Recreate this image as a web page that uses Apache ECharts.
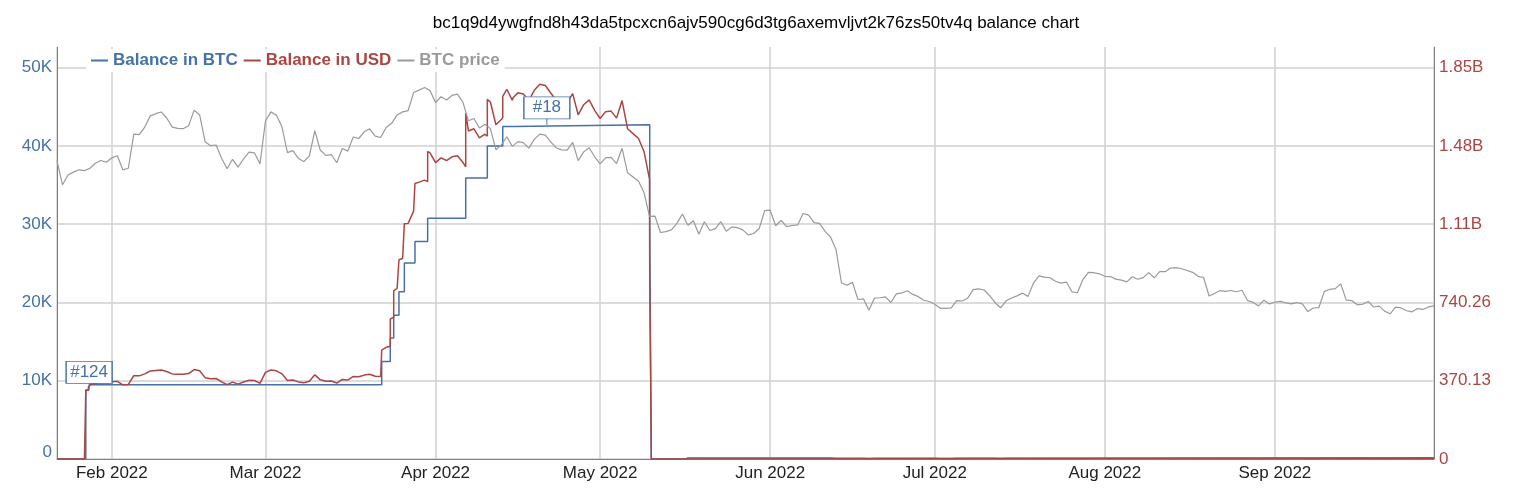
<!DOCTYPE html>
<html>
<head>
<meta charset="utf-8">
<script src="https://cdn.jsdelivr.net/npm/echarts@6/dist/echarts.min.js"></script>
<style>
html,body{margin:0;padding:0;background:#fff;}
#chart{width:1520px;height:496px;}
</style>
</head>
<body>
<div id="chart"></div>
<script>
// ---- data ----
const chartTitle = 'bc1q9d4ywgfnd8h43da5tpcxcn6ajv590cg6d3tg6axemvljvt2k76zs50tv4q balance chart';
const seriesNames = ['Balance in BTC', 'Balance in USD', 'BTC price'];
const firstDay = [2022, 0, 22];           // daily points start 2022-01-22
const axisStart = '2022-01-22 00:00';
const axisEnd = '2022-09-30 00:00';

// BTC price, thousands of USD, one value per day from 2022-01-22
const btcPriceK = [
38.10,35.03,36.28,36.65,36.95,36.85,37.14,37.78,38.14,37.92,
38.48,38.74,36.95,37.15,41.50,41.44,42.41,43.84,44.12,44.34,
43.57,42.41,42.24,42.20,42.59,44.58,43.96,40.54,40.03,40.12,
38.43,37.08,38.29,37.30,38.33,39.21,39.11,37.71,43.19,44.35,
43.93,42.45,39.14,39.40,38.42,37.99,38.73,41.94,39.44,38.79,
38.90,37.85,39.67,39.34,41.14,40.95,41.80,42.19,41.25,41.08,
42.36,42.89,43.96,44.35,44.50,46.82,47.13,47.47,47.06,45.54,
46.28,45.87,46.45,46.62,45.56,43.21,43.50,42.29,42.78,42.21,
39.52,40.13,41.17,39.94,40.55,40.42,39.72,40.83,41.50,41.37,
40.53,39.74,39.49,39.47,40.46,38.12,39.24,39.77,38.61,37.71,
38.47,38.53,37.75,39.70,36.58,36.04,35.50,34.06,31.00,31.02,
28.94,29.05,29.28,30.10,31.31,29.86,30.43,28.72,30.31,29.20,
29.43,30.32,29.10,29.66,29.56,29.27,28.63,28.81,29.45,31.73,
31.79,29.80,30.47,29.70,29.83,29.91,31.37,31.16,30.21,30.11,
29.08,28.36,26.76,22.49,22.21,22.57,20.38,20.47,19.02,20.55,
20.60,20.71,19.99,21.09,21.23,21.50,21.03,20.74,20.28,20.12,
19.78,19.27,19.24,19.30,20.23,20.19,20.55,21.64,21.73,21.59,
20.86,19.97,19.32,20.21,20.57,20.84,21.19,20.78,22.49,23.39,
23.23,23.16,22.71,22.47,22.61,21.36,21.24,22.93,23.84,23.80,
23.66,23.34,23.31,22.98,22.85,22.63,23.29,22.96,23.18,23.81,
23.15,23.95,23.93,24.40,24.44,24.31,24.09,23.85,23.34,23.19,
20.83,21.14,21.52,21.42,21.53,21.37,21.56,20.24,20.04,19.56,
20.29,19.81,20.05,20.13,19.95,19.83,19.99,19.81,18.84,19.29,
19.33,21.38,21.68,21.77,22.37,20.30,20.24,19.70,19.77,20.13,
19.42,19.54,18.89,18.55,19.41,19.30,18.94,18.80,19.22,19.11,
19.43,19.57
];

// Balance in USD, millions, one value per day from 2022-01-22
const usdDailyM = [
0,0,0,0,0,0,341.7,358.5,361.9,359.9,
365.2,367.6,350.7,352.6,393.8,393.3,402.5,416.0,418.7,420.8,
413.5,402.5,400.9,400.5,404.2,423.1,417.2,384.7,379.9,380.7,
364.7,351.9,363.4,354.0,363.8,372.1,371.2,357.9,409.9,420.9,
416.9,402.9,371.4,373.9,364.6,360.5,367.5,398.0,374.3,368.1,
369.2,359.2,376.5,373.3,390.4,388.6,396.7,400.4,391.5,389.9,
528.2,663.5,807.5,947.8,1114.3,1172.4,1309.3,1318.7,1448.0,1401.3,
1424.0,1411.4,1429.3,1434.5,1401.9,1551.2,1561.7,1518.2,1535.8,1688.4,
1580.8,1605.2,1748.5,1696.3,1731.5,1725.9,1696.0,1743.4,1772.1,1766.5,
1730.6,1696.9,1686.2,1685.4,1727.6,1627.7,1675.5,1698.2,1648.6,1610.2,
1642.7,1645.2,1611.9,1695.2,1562.0,1538.9,1515.9,1454.4,1323.7,0,
0,0,0,0,0,4.5,4.6,4.3,4.5,4.4,
4.4,4.5,4.4,4.4,4.4,4.4,4.3,4.3,4.4,4.8,
4.8,4.5,4.6,4.5,4.5,4.5,4.7,4.7,4.5,4.5,
4.4,4.3,4.0,3.4,3.3,3.4,3.1,3.1,2.9,3.1,
3.1,3.1,3.0,3.2,3.2,3.2,3.2,3.1,3.0,3.0,
3.0,2.9,2.9,2.9,3.0,3.0,3.1,3.2,3.3,3.2,
3.1,3.0,2.9,3.0,3.1,3.1,3.2,3.1,3.4,3.5,
3.5,3.5,3.4,3.4,3.4,3.2,3.2,3.4,3.6,3.6,
3.5,3.5,3.5,3.4,3.4,3.4,3.5,3.4,3.5,3.6,
3.5,3.6,3.6,3.7,3.7,3.6,3.6,3.6,3.5,3.5,
3.1,3.2,3.2,3.2,3.2,3.2,3.2,3.0,3.0,2.9,
3.0,3.0,3.0,3.0,3.0,3.0,3.0,3.0,2.8,2.9,
2.9,3.2,3.3,3.3,3.4,3.0,3.0,3.0,3.0,3.0,
2.9,2.9,2.8,2.8,2.9,2.9,2.8,2.8,2.9,2.9,
2.9,2.9
];

// USD balance jumps at transaction times: [time, before (M), after (M)]
const usdJumps = [
['2022-01-27 06:00',0,325],
['2022-01-27 18:00',325,340],
['2022-01-28 02:00',342,353],
['2022-03-22 04:30',389,515],
['2022-03-23 18:00',533,662],
['2022-03-24 09:00',670,795],
['2022-03-25 08:00',810,942],
['2022-03-26 07:30',949,1112],
['2022-03-28 06:00',1174,1303],
['2022-03-30 13:30',1312,1454],
['2022-04-06 12:00',1382,1635],
['2022-04-10 10:30',1527,1701],
['2022-04-13 06:00',1615,1715],
['2022-04-15 03:00',1699,1708],
['2022-05-10 01:00',1324,877],
['2022-05-10 08:00',877,0],
['2022-05-16 14:00',0,4.5]
];

// Balance in BTC (thousands of BTC), step changes
const balanceSteps = [
['2022-01-22 00:00',0],
['2022-01-27 06:00',8.8],
['2022-01-27 18:00',9.2],
['2022-01-28 02:00',9.49],
['2022-03-22 04:30',12.47],
['2022-03-23 18:00',15.47],
['2022-03-24 09:00',18.37],
['2022-03-25 08:00',21.37],
['2022-03-26 07:30',25.04],
['2022-03-28 06:00',27.78],
['2022-03-30 13:30',30.77],
['2022-04-06 12:00',35.9],
['2022-04-10 10:30',40.0],
['2022-04-13 06:00',42.47],
['2022-04-15 03:00',42.7],
['2022-05-10 01:00',28.3],
['2022-05-10 08:00',0],
['2022-05-16 14:00',0.15],
['2022-09-30 00:00',0.15]
];

const annotations = [
['2022-01-27 20:30',8.9,'#124'],
['2022-04-21 07:00',42.7,'#18']
];

const leftTickLabels = ['0','10K','20K','30K','40K','50K'];
const rightTickLabels = ['0','370.13','740.26','1.11B','1.48B','1.85B'];
const leftMaxK = 52.64;
const leftStepK = 10;
const rightStepM = 370.13;

// ---- build ----
function parseT(s){
  const [d,h] = s.split(' ');
  const [Y,M,D] = d.split('-').map(Number);
  const [hh,mm] = h.split(':').map(Number);
  return new Date(Y,M-1,D,hh,mm).getTime();
}
function dayT(k){ return new Date(firstDay[0], firstDay[1], firstDay[2]+k).getTime(); }

const priceData = btcPriceK.map((v,k)=>[dayT(k), v]);
let usdData = usdDailyM.map((v,k)=>[dayT(k), v]);
usdJumps.forEach(j=>{ const t=parseT(j[0]); usdData.push([t,j[1]]); usdData.push([t,j[2]]); });
usdData.sort((a,b)=>a[0]-b[0]);
const balData = balanceSteps.map(s=>[parseT(s[0]), s[1]]);

const BLUE='#4572A7', RED='#AA4643', GRAY='#9a9a9a';
const FONT='Arial, "Liberation Sans", sans-serif';
const FS=17;

const markData = [];
annotations.forEach(a=>{
  const c=[parseT(a[0]), a[1]];
  markData.push({name:a[2], coord:c, symbol:'rect', symbolSize:[46,22], symbolOffset:[0,-17],
    itemStyle:{color:'#fff', borderColor:BLUE, borderWidth:1},
    label:{show:true, position:'inside', color:BLUE, fontSize:FS, fontFamily:FONT, formatter:function(p){return p.name;}}});
  markData.push({name:'', coord:c, symbol:'rect', symbolSize:[1,6], symbolOffset:[0,-3],
    itemStyle:{color:BLUE, borderWidth:0}, label:{show:false}});
});

const chart = echarts.init(document.getElementById('chart'));
chart.setOption({
  animation:false,
  backgroundColor:'#fff',
  title:{
    text:chartTitle, left:751, top:10, textAlign:'center',
    textStyle:{fontSize:FS, fontWeight:'normal', color:'#000', fontFamily:FONT}
  },
  legend:{
    left:86, top:49, padding:[3,5], itemGap:6, itemWidth:17, itemHeight:2,
    backgroundColor:'#fff', icon:'rect',
    textStyle:{fontSize:FS, fontWeight:'bold', fontFamily:FONT},
    data:[
      {name:seriesNames[0], textStyle:{color:BLUE}},
      {name:seriesNames[1], textStyle:{color:RED}},
      {name:seriesNames[2], textStyle:{color:GRAY}}
    ]
  },
  grid:{left:57, right:86, top:47, bottom:37},
  xAxis:{
    type:'time', min:parseT(axisStart), max:parseT(axisEnd),
    splitNumber:8, minInterval:28*86400000, maxInterval:31*86400000,
    axisLine:{show:true, lineStyle:{color:'#808080', width:1}},
    axisTick:{show:false},
    axisLabel:{formatter:'{MMM} {yyyy}', color:'#222', fontSize:FS, fontFamily:FONT, margin:6, showMinLabel:false, showMaxLabel:false},
    splitLine:{show:true, lineStyle:{color:'#d0d0d0', width:1.5}}
  },
  yAxis:[
    {
      type:'value', min:0, max:leftMaxK, interval:leftStepK, position:'left',
      axisLine:{show:true, lineStyle:{color:'#808080', width:1}},
      axisTick:{show:false},
      axisLabel:{
        color:BLUE, fontSize:FS, fontFamily:FONT, margin:5, showMaxLabel:false,
        formatter:function(v){ const i=Math.round(v/leftStepK); return i===0 ? '{z|'+leftTickLabels[0]+'}' : (leftTickLabels[i]||''); },
        rich:{z:{color:BLUE, fontSize:FS, fontFamily:FONT, padding:[0,0,14,0]}}
      },
      splitLine:{show:true, showMaxLine:false, lineStyle:{color:'#d0d0d0', width:1.5}}
    },
    {
      type:'value', min:0, max:leftMaxK/leftStepK*rightStepM, interval:rightStepM, position:'right',
      axisLine:{show:true, lineStyle:{color:'#808080', width:1}},
      axisTick:{show:false},
      axisLabel:{
        color:RED, fontSize:FS, fontFamily:FONT, margin:5, showMaxLabel:false,
        formatter:function(v){ const i=Math.round(v/rightStepM); return rightTickLabels[i]||''; }
      },
      splitLine:{show:false}
    }
  ],
  series:[
    {
      name:seriesNames[0], type:'line', yAxisIndex:0, step:'end', data:balData,
      showSymbol:false, symbol:'none', lineStyle:{color:BLUE, width:1.5}, itemStyle:{color:BLUE},
      markPoint:{ data:markData }
    },
    {
      name:seriesNames[1], type:'line', yAxisIndex:1, data:usdData,
      showSymbol:false, symbol:'none', lineStyle:{color:RED, width:1.5}, itemStyle:{color:RED}
    },
    {
      name:seriesNames[2], type:'line', yAxisIndex:0, data:priceData,
      showSymbol:false, symbol:'none', lineStyle:{color:GRAY, width:1.2}, itemStyle:{color:GRAY}
    }
  ]
});
</script>
</body>
</html>
